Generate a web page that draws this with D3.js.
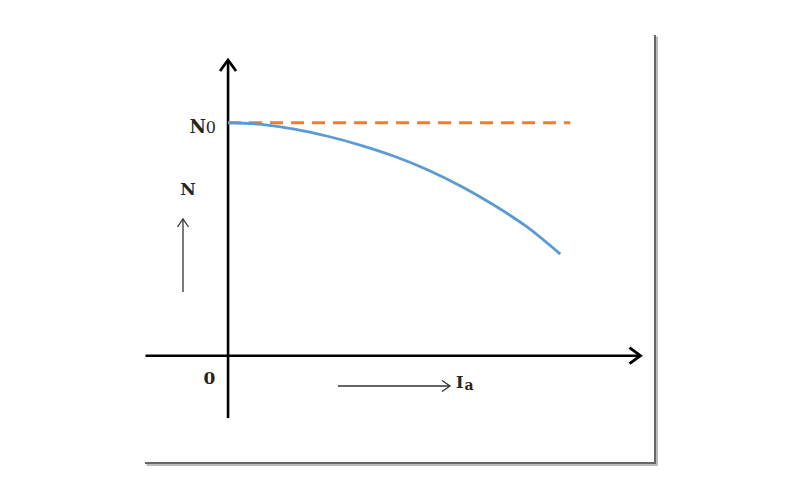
<!DOCTYPE html>
<meta charset="utf-8">
<style>
body { margin: 0; background: #fff; }
.axis path { stroke: #000; stroke-width: 2.6; }
.lbl { font-family: "DejaVu Serif", "Liberation Serif", serif; font-weight: bold; fill: #2a2418; }
</style>
<svg width="800" height="500"></svg>
<script src="https://d3js.org/d3.v7.min.js"></script>
<script>

// armature current Ia (relative units) and speed N (% of N0)
var ia = [0, 10, 20, 30, 40, 50, 60, 70, 80, 90, 100];
var speed = [100, 99.3, 97.3, 94.2, 90.3, 85.6, 79.8, 72.8, 64.6, 55.2, 43.5];
var noLoad = [100, 100];
var noLoadIa = [0, 103];

var svg = d3.select("svg");

var x = d3.scaleLinear().domain([-25, 124]).range([145, 640]),
    y = d3.scaleLinear().domain([-27, 127]).range([418, 60]);

var defs = svg.append("defs");
defs.append("marker")
    .attr("id", "head")
    .attr("markerUnits", "userSpaceOnUse")
    .attr("viewBox", "-14 -10 16 20")
    .attr("markerWidth", 16)
    .attr("markerHeight", 20)
    .attr("refX", 0)
    .attr("refY", 0)
    .attr("orient", "auto")
  .append("path")
    .attr("d", "M-11,-8L0,0L-11,8")
    .attr("fill", "none")
    .attr("stroke", "#000")
    .attr("stroke-width", 2.8)
    .attr("stroke-linejoin", "miter");

defs.append("marker")
    .attr("id", "thin")
    .attr("markerUnits", "userSpaceOnUse")
    .attr("viewBox", "-10 -7 12 14")
    .attr("markerWidth", 12)
    .attr("markerHeight", 14)
    .attr("refX", 0)
    .attr("refY", 0)
    .attr("orient", "auto")
  .append("path")
    .attr("d", "M-8,-5.5L0,0L-8,5.5")
    .attr("fill", "none")
    .attr("stroke", "#333")
    .attr("stroke-width", 1.3);

// frame (right and bottom edges with a soft shadow)
var frame = "M655,35V463H145";
svg.append("path").attr("d", frame).attr("transform", "translate(1.5,1.5)")
    .attr("fill", "none").attr("stroke", "#bbb").attr("stroke-width", 3);
svg.append("path").attr("d", frame)
    .attr("fill", "none").attr("stroke", "#666").attr("stroke-width", 2);

// axes
svg.append("g")
    .attr("class", "axis")
    .attr("transform", "translate(0," + y(0) + ")")
    .call(d3.axisBottom(x).tickValues([]).tickSizeOuter(0))
  .select(".domain")
    .attr("marker-end", "url(#head)");

svg.append("g")
    .attr("class", "axis")
    .attr("transform", "translate(" + x(0) + ",0)")
    .call(d3.axisLeft(y).tickValues([]).tickSizeOuter(0))
  .select(".domain")
    .attr("d", "M0," + y.range()[0] + "V" + y.range()[1])
    .attr("marker-end", "url(#head)");

// no-load speed line
svg.append("path")
    .datum(noLoadIa.map(function(d, i) { return [d, noLoad[i]]; }))
    .attr("fill", "none")
    .attr("stroke", "#ED7D31")
    .attr("stroke-width", 3)
    .attr("stroke-dasharray", "13,8")
    .attr("d", d3.line().x(function(d) { return x(d[0]); }).y(function(d) { return y(d[1]); }));

// speed characteristic
svg.append("path")
    .datum(ia.map(function(d, i) { return [d, speed[i]]; }))
    .attr("fill", "none")
    .attr("stroke", "#5B9BD5")
    .attr("stroke-width", 2.8)
    .attr("d", d3.line().curve(d3.curveMonotoneX)
      .x(function(d) { return x(d[0]); }).y(function(d) { return y(d[1]); }));

// labels
var n0 = svg.append("text").attr("class", "lbl")
    .attr("x", x(0) - 12).attr("y", y(100) + 10)
    .attr("text-anchor", "end").style("font-size", "18px");
n0.append("tspan").text("N");
n0.append("tspan").text("0").style("font-size", "16px").style("font-weight", "normal");

svg.append("text").attr("class", "lbl")
    .attr("x", 188).attr("y", 195)
    .attr("text-anchor", "middle").style("font-size", "17px")
    .text("N");

svg.append("line")
    .attr("x1", 183).attr("y1", 292).attr("x2", 183).attr("y2", 219)
    .attr("stroke", "#333").attr("stroke-width", 1.3)
    .attr("marker-end", "url(#thin)");

svg.append("text").attr("class", "lbl")
    .attr("x", 209.5).attr("y", 384)
    .attr("text-anchor", "middle").style("font-size", "17px")
    .text("0");

svg.append("line")
    .attr("x1", 338).attr("y1", 386).attr("x2", 450).attr("y2", 386)
    .attr("stroke", "#333").attr("stroke-width", 1.3)
    .attr("marker-end", "url(#thin)");

var iaLbl = svg.append("text").attr("class", "lbl")
    .attr("x", 456).attr("y", 388).style("font-size", "16px");
iaLbl.append("tspan").text("I");
iaLbl.append("tspan").attr("dy", 2).attr("dx", 1).text("a").style("font-size", "14px");

</script>
